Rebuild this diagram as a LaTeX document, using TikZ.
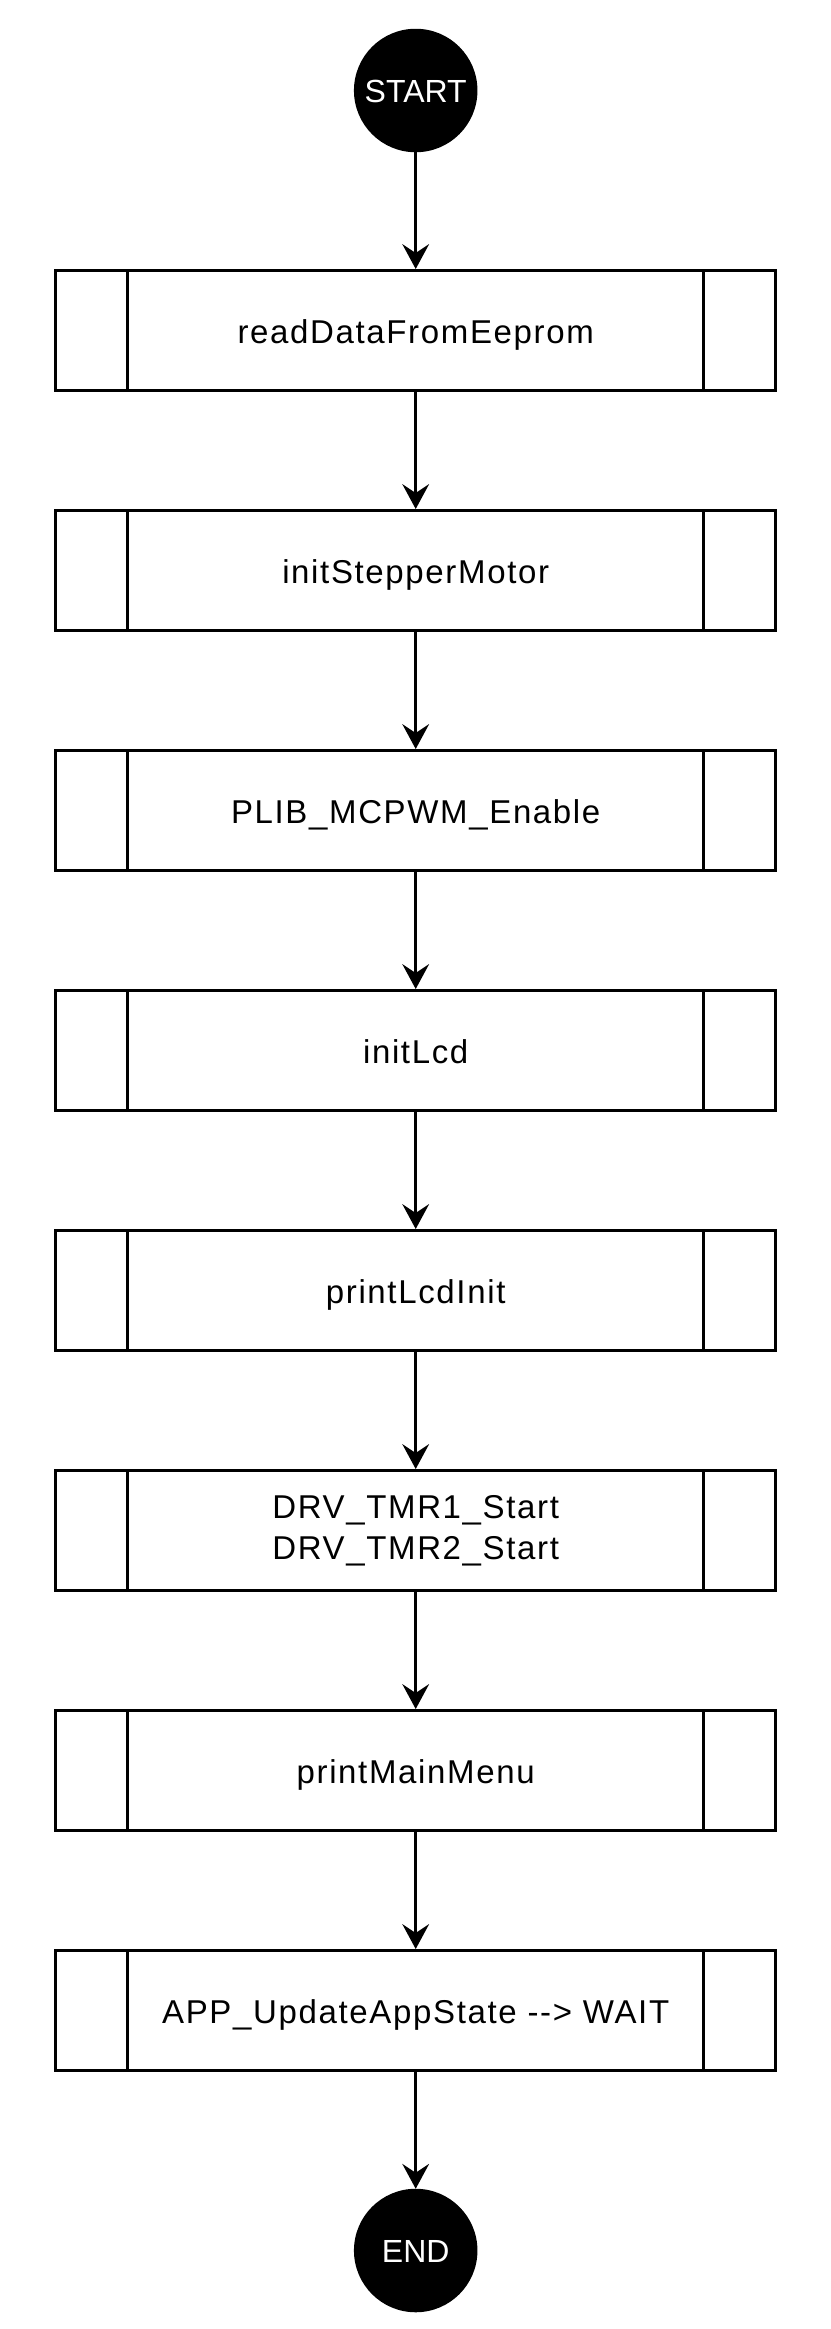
\documentclass[tikz,border=0pt]{standalone}
\usepackage{fontspec}
\setmainfont{Liberation Sans}
\newfontfamily\boxfont{Liberation Sans}[LetterSpace=5]
\usetikzlibrary{arrows.meta}
\begin{document}
\begin{tikzpicture}[x=1pt,y=-1pt,
  term/.style={circle, fill=black, draw=black, line width=3pt, minimum size=120.5pt,
    inner sep=0pt, text=white, font=\fontsize{32}{38}\selectfont,
    text height=23pt, text depth=0pt},
  sub/.style={draw=black, line width=3pt, minimum width=720pt, minimum height=120pt,
    inner sep=0pt, font=\boxfont\fontsize{33}{41}\selectfont,
    path picture={
      \draw[line width=3pt] ([xshift=72pt]path picture bounding box.north west) -- ([xshift=72pt]path picture bounding box.south west);
      \draw[line width=3pt] ([xshift=-72pt]path picture bounding box.north east) -- ([xshift=-72pt]path picture bounding box.south east);
    }},
  txt/.style={text height=26pt, text depth=0pt},
  arr/.style={-{Stealth[length=25pt,width=27pt,inset=9pt,line width=0pt]}, line width=3pt}
]
\useasboundingbox (0,0) rectangle (830,2329);
\node[term] (start) at (415.7,90.5) {START};
\node[sub,txt] (b1) at (415.7,330.5) {readDataFromEeprom};
\node[sub,txt] (b2) at (415.7,570.5) {initStepperMotor};
\node[sub,txt] (b3) at (415.7,810.5) {PLIB\_MCPWM\_Enable};
\node[sub,txt] (b4) at (415.7,1050.5) {initLcd};
\node[sub,txt] (b5) at (415.7,1290.5) {printLcdInit};
\node[sub,align=center] (b6) at (415.7,1530.5) {DRV\_TMR1\_Start\\DRV\_TMR2\_Start};
\node[sub,txt] (b7) at (415.7,1770.5) {printMainMenu};
\node[sub,txt] (b8) at (415.7,2010.5) {APP\_UpdateAppState -{}-\textgreater{} WAIT};
\node[term] (end) at (415.7,2250.5) {END};
\draw[arr] (start) -- (b1);
\draw[arr] (b1) -- (b2);
\draw[arr] (b2) -- (b3);
\draw[arr] (b3) -- (b4);
\draw[arr] (b4) -- (b5);
\draw[arr] (b5) -- (b6);
\draw[arr] (b6) -- (b7);
\draw[arr] (b7) -- (b8);
\draw[arr] (b8) -- (end);
\end{tikzpicture}
\end{document}
